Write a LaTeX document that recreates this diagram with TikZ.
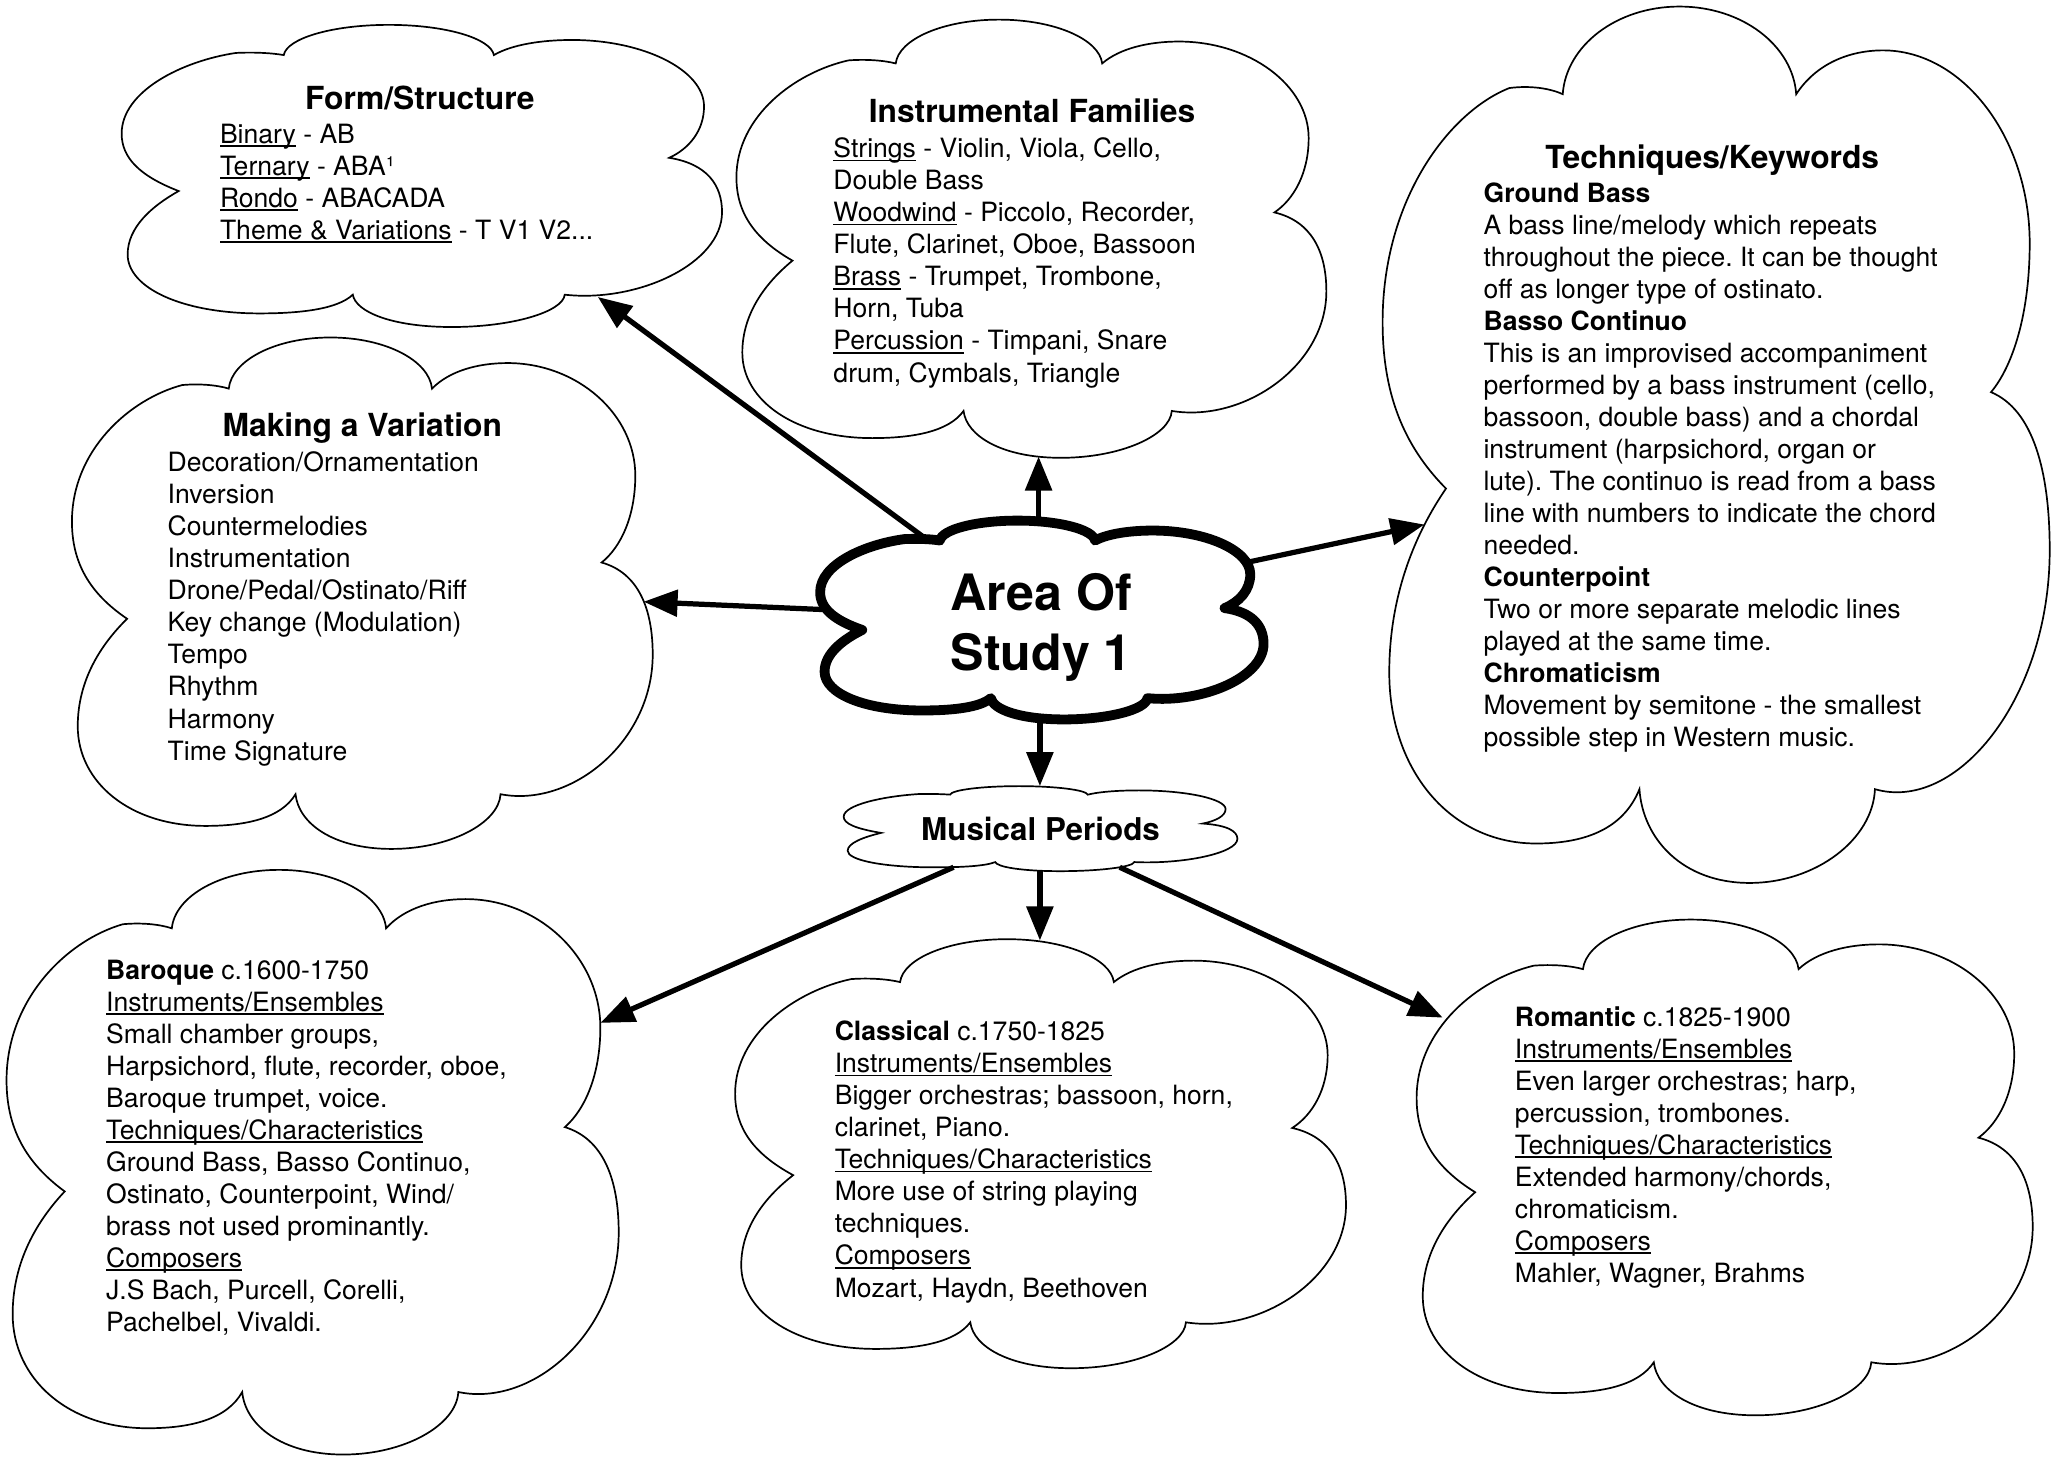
\documentclass[tikz,border=0pt]{standalone}
\usepackage{fontspec}
\setmainfont{TeX Gyre Heros}
\usetikzlibrary{arrows.meta}
\frenchspacing

% underline at a fixed depth, running through descenders
\newcommand{\ulx}[1]{{\setbox0=\hbox{#1}\rlap{\rule[-2.8pt]{\wd0}{1.4pt}}\box0}}

% six-lobed cloud outline in the box with top-left corner (#1,#2), width #3, height #4
\newcommand{\cloudshape}[5]{%
  \begin{scope}[shift={(#1,#2)}, x=#3pt, y=-#4pt]
    \filldraw[#5] (0.27,0.10)
      .. controls (0.275,0.045) and (0.35,0.0) .. (0.445,0.0)
      .. controls (0.54,0.0) and (0.615,0.045) .. (0.62,0.10)
      .. controls (0.65,0.065) and (0.70,0.05) .. (0.75,0.05)
      .. controls (0.87,0.05) and (0.97,0.15) .. (0.97,0.27)
      .. controls (0.97,0.35) and (0.945,0.41) .. (0.912,0.44)
      .. controls (0.975,0.46) and (1.0,0.53) .. (1.0,0.62)
      .. controls (1.0,0.79) and (0.86,0.92) .. (0.738,0.893)
      .. controls (0.735,0.95) and (0.65,1.0) .. (0.55,1.0)
      .. controls (0.45,1.0) and (0.39,0.95) .. (0.385,0.893)
      .. controls (0.36,0.94) and (0.30,0.955) .. (0.23,0.955)
      .. controls (0.10,0.955) and (0.01,0.87) .. (0.01,0.76)
      .. controls (0.01,0.67) and (0.05,0.60) .. (0.095,0.55)
      .. controls (0.03,0.50) and (0.0,0.44) .. (0.0,0.36)
      .. controls (0.0,0.22) and (0.1,0.12) .. (0.19,0.093)
      .. controls (0.22,0.09) and (0.25,0.093) .. (0.27,0.10) -- cycle;
  \end{scope}}

\begin{document}
\begin{tikzpicture}[x=1pt, y=-1pt,
  cloudline/.style={draw=black, fill=white, line width=1.3pt},
  hubline/.style={draw=black, fill=white, line width=7.5pt, line join=round},
  conn/.style={line width=4pt, -{Triangle[length=26pt,width=20pt]}},
  body/.style={anchor=north west, inner sep=0pt, align=left,
    font=\fontsize{20.3}{24.5}\selectfont},
  heading/.style={anchor=base, inner sep=0pt,
    font=\fontsize{24.3}{29}\selectfont\bfseries}]

\fill[white] (0,0) rectangle (1568,1117);
\useasboundingbox (0,0) rectangle (1568,1117);

% cloud outlines
\cloudshape{93}{19}{459}{231}{cloudline}      % form / structure
\cloudshape{563}{15}{451}{335}{cloudline}     % instrumental families
\cloudshape{1057}{5}{510}{670}{cloudline}     % techniques / keywords
\cloudshape{55}{258}{444}{391}{cloudline}     % making a variation
\cloudshape{645}{601}{301}{65}{cloudline}     % musical periods
\cloudshape{5}{665}{468}{447}{cloudline}      % baroque
\cloudshape{562}{718}{467}{328}{cloudline}    % classical
\cloudshape{1083}{703}{471}{379}{cloudline}   % romantic
\cloudshape{627}{398}{339}{152}{hubline}      % area of study 1

% connector end points on the cloud borders
\coordinate (aos-n)   at (794,398);
\coordinate (inst-s)  at (794,349);
\coordinate (aos-nw)  at (708,412);
\coordinate (form-se) at (457,227);
\coordinate (aos-w)   at (629,466);
\coordinate (make-e)  at (492,460);
\coordinate (aos-e)   at (953,430);
\coordinate (tech-w)  at (1089,401);
\coordinate (aos-s)   at (795,549);
\coordinate (mp-n)    at (795,601);
\coordinate (mp-sw)   at (729,663);
\coordinate (bar-ne)  at (459,782);
\coordinate (mp-s)    at (795,665.5);
\coordinate (cla-n)   at (795,719);
\coordinate (mp-se)   at (856,663);
\coordinate (rom-nw)  at (1103,778);

\draw[conn] (aos-n) -- (inst-s);
\draw[conn] (aos-nw) -- (form-se);
\draw[conn] (aos-w) -- (make-e);
\draw[conn] (aos-e) -- (tech-w);
\draw[conn] (aos-s) -- (mp-n);
\draw[conn] (mp-sw) -- (bar-ne);
\draw[conn] (mp-s) -- (cla-n);
\draw[conn] (mp-se) -- (rom-nw);

% central topic
\node[anchor=north, inner sep=0pt, align=center,
      font=\fontsize{38.3}{46.3}\selectfont\bfseries] (aos) at (796,434)
  {\strut Area Of\\Study 1};
\node[heading, font=\fontsize{24}{29}\selectfont\bfseries] (mp) at (795.5,642.7) {Musical Periods};

% form / structure
\node[heading] (formT) at (321,83.7) {Form/Structure};
\node[body] (formB) at (168,92.2) {\strut\ulx{Binary} - AB\\
  \ulx{Ternary} - ABA¹\\
  \ulx{Rondo} - ABACADA\\
  \ulx{Theme \& Variations} - T V1 V2...};

% instrumental families
\node[heading] (instT) at (789,93.7) {Instrumental Families};
\node[body] (instB) at (637,103.2) {\strut\ulx{Strings} - Violin, Viola, Cello,\\
  Double Bass\\
  \ulx{Woodwind} - Piccolo, Recorder,\\
  Flute, Clarinet, Oboe, Bassoon\\
  \ulx{Brass} - Trumpet, Trombone,\\
  Horn, Tuba\\
  \ulx{Percussion} - Timpani, Snare\\
  drum, Cymbals, Triangle};

% techniques / keywords
\node[heading] (techT) at (1309,128.7) {Techniques/Keywords};
\node[body] (techB) at (1134,137.2) {\strut\textbf{Ground Bass}\\
  A bass line/melody which repeats\\
  throughout the piece. It can be thought\\
  off as longer type of ostinato.\\
  \textbf{Basso Continuo}\\
  This is an improvised accompaniment\\
  performed by a bass instrument (cello,\\
  bassoon, double bass) and a chordal\\
  instrument (harpsichord, organ or\\
  lute). The continuo is read from a bass\\
  line with numbers to indicate the chord\\
  needed.\\
  \textbf{Counterpoint}\\
  Two or more separate melodic lines\\
  played at the same time.\\
  \textbf{Chromaticism}\\
  Movement by semitone - the smallest\\
  possible step in Western music.};

% making a variation
\node[heading] (makeT) at (277,333.7) {Making a Variation};
\node[body] (makeB) at (128,343.2) {\strut Decoration/Ornamentation\\
  Inversion\\
  Countermelodies\\
  Instrumentation\\
  Drone/Pedal/Ostinato/Riff\\
  Key change (Modulation)\\
  Tempo\\
  Rhythm\\
  Harmony\\
  Time Signature};

% baroque
\node[body] (baroque) at (81,731.2) {\strut\textbf{Baroque} c.1600-1750\\
  \ulx{Instruments/Ensembles}\\
  Small chamber groups,\\
  Harpsichord, flute, recorder, oboe,\\
  Baroque trumpet, voice.\\
  \ulx{Techniques/Characteristics}\\
  Ground Bass, Basso Continuo,\\
  Ostinato, Counterpoint, Wind/\\
  brass not used prominantly.\\
  \ulx{Composers}\\
  J.S Bach, Purcell, Corelli,\\
  Pachelbel, Vivaldi.};

% classical
\node[body] (classical) at (638,778.2) {\strut\textbf{Classical} c.1750-1825\\
  \ulx{Instruments/Ensembles}\\
  Bigger orchestras; bassoon, horn,\\
  clarinet, Piano.\\
  \ulx{Techniques/Characteristics}\\
  More use of string playing\\
  techniques.\\
  \ulx{Composers}\\
  Mozart, Haydn, Beethoven};

% romantic
\node[body] (romantic) at (1158,767.2) {\strut\textbf{Romantic} c.1825-1900\\
  \ulx{Instruments/Ensembles}\\
  Even larger orchestras; harp,\\
  percussion, trombones.\\
  \ulx{Techniques/Characteristics}\\
  Extended harmony/chords,\\
  chromaticism.\\
  \ulx{Composers}\\
  Mahler, Wagner, Brahms};

\end{tikzpicture}
\end{document}
